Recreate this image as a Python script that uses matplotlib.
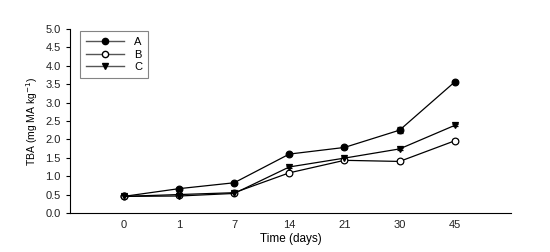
import matplotlib
matplotlib.use("Agg")
import matplotlib.pyplot as plt
from matplotlib.lines import Line2D
import numpy as np

plt.rcParams['font.family'] = ['Liberation Sans', 'DejaVu Sans']

days = ["0", "1", "7", "14", "21", "30", "45"]
A = [0.45, 0.66, 0.82, 1.60, 1.78, 2.25, 3.56]
B = [0.45, 0.50, 0.55, 1.09, 1.43, 1.40, 1.96]
C = [0.45, 0.46, 0.53, 1.25, 1.49, 1.74, 2.38]
A_err = [0.02, 0.02, 0.02, 0.03, 0.03, 0.09, 0.03]
B_err = [0.02, 0.02, 0.02, 0.03, 0.03, 0.03, 0.04]
C_err = [0.02, 0.02, 0.02, 0.03, 0.03, 0.03, 0.03]

fig = plt.figure(figsize=(5.5, 2.52), dpi=100)
ax = fig.add_axes([0.127, 0.155, 0.802, 0.730])
x = np.arange(len(days))

styles = [(A, A_err, 'o', 'black'), (B, B_err, 'o', 'white'), (C, C_err, 'v', 'black')]
for vals, err, m, fc in styles:
    ax.errorbar(x, vals, yerr=err, color='black', marker=m, markersize=4.8, lw=0.9,
                mfc=fc, mec='black', mew=0.9, capsize=2, elinewidth=0.8)

ax.set_xlim(-0.98, 7.02)
ax.set_ylim(0, 5.0)
ax.set_xticks(x)
ax.set_xticklabels(days)
ax.set_yticks(np.arange(0, 5.01, 0.5))
ax.set_yticklabels([f"{v:.1f}" for v in np.arange(0, 5.01, 0.5)])
ax.tick_params(axis='both', labelsize=8, direction='out', length=3, width=0.8,
               labelcolor='#222222')
ax.tick_params(axis='x', length=0, pad=5)
for s in ['top', 'right']:
    ax.spines[s].set_visible(False)
for s in ['left', 'bottom']:
    ax.spines[s].set_linewidth(0.8)

ax.set_xlabel("Time (days)", fontsize=8.5, labelpad=2)
ax.set_ylabel("TBA (mg MA kg$^{-1}$)", fontsize=7.5, labelpad=4)

handles = [
    Line2D([], [], color='#555555', lw=1.0, marker='o', mfc='black', mec='black', markersize=4.5),
    Line2D([], [], color='#555555', lw=1.0, marker='o', mfc='white', mec='black', markersize=4.5),
    Line2D([], [], color='#555555', lw=1.0, marker='v', mfc='black', mec='black', markersize=4.5),
]
leg = ax.legend(handles, ['A', 'B', 'C'], loc='upper left', bbox_to_anchor=(0.018, 1.0),
                fontsize=8, frameon=True, fancybox=False, edgecolor='#666666',
                handlelength=3.5, borderpad=0.5, labelspacing=0.25,
                handletextpad=0.9, borderaxespad=0.2)
leg.get_frame().set_linewidth(0.8)

fig.savefig("out.png", dpi=100)
